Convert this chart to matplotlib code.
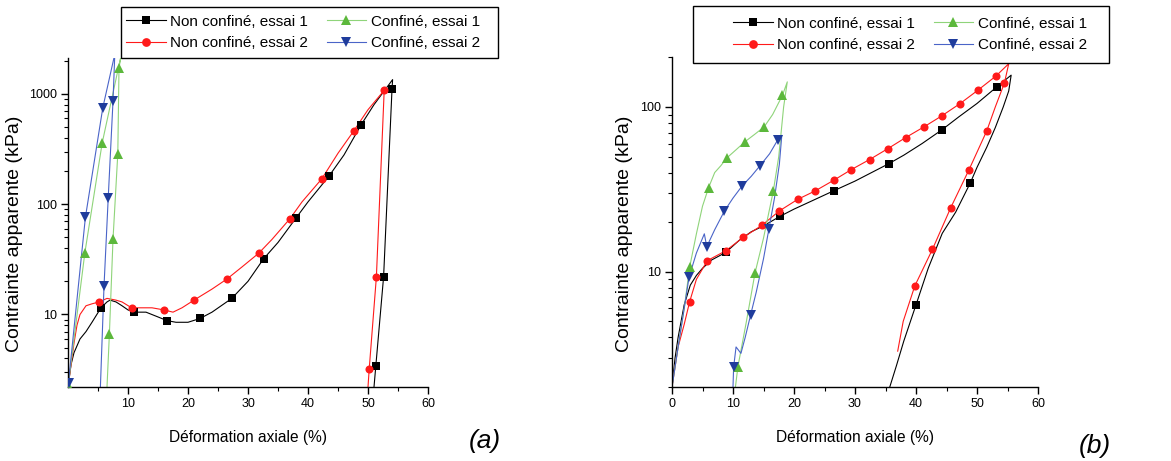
import numpy as np
import matplotlib
matplotlib.use('Agg')
import matplotlib.pyplot as plt
from matplotlib.lines import Line2D
from matplotlib.patches import Rectangle

# ---------------- Panel (a) data ----------------
a_nc1_load_x = [0, 0.5, 1, 2, 3, 4, 5.5, 6.5, 7, 8, 9, 10, 11, 13, 15, 16.5, 18, 20, 22, 24, 26,
                27.3, 30, 32.6, 35, 38, 40, 43.5, 46, 48.8, 51, 54.1]
a_nc1_load_y = [2.2, 3.5, 4.5, 6, 7, 8.5, 11.5, 13, 13.5, 13, 12, 11, 10.5, 10.5, 9.5, 8.8, 8.5, 8.5,
                9.2, 10.5, 12.5, 14, 20, 32, 45, 75, 105, 180, 280, 520, 800, 1350]
a_nc1_unload_x = [54.1, 54.0, 52.6, 51.3, 51.0]
a_nc1_unload_y = [1350, 1100, 22, 3.4, 2.2]
a_nc1_mk_x = [5.5, 11, 16.5, 22, 27.3, 32.6, 38, 43.5, 48.8, 54.0, 52.6, 51.3]
a_nc1_mk_y = [11.5, 10.5, 8.8, 9.2, 14, 32, 75, 180, 520, 1100, 22, 3.4]

a_nc2_load_x = [0, 0.5, 1, 1.5, 2, 3, 4, 5.2, 6.5, 8, 9, 10.6, 12, 14, 16, 17.5, 19, 21, 24, 26.5,
                29, 31.8, 34, 37, 39, 42.3, 45, 47.6, 50, 52.7]
a_nc2_load_y = [2.2, 3.5, 5.5, 8, 10, 12, 12.5, 13, 14, 13.5, 13, 11.5, 11.5, 11.5, 11, 10.5, 11.5,
                13.5, 17, 21, 27, 36, 48, 74, 105, 170, 290, 460, 720, 1080]
a_nc2_unload_x = [52.7, 51.4, 50.2, 50.0]
a_nc2_unload_y = [1080, 22, 3.2, 2.2]
a_nc2_mk_x = [5.2, 10.6, 16, 21, 26.5, 31.8, 37, 42.3, 47.6, 52.7, 51.4, 50.2]
a_nc2_mk_y = [13, 11.5, 11, 13.5, 21, 36, 74, 170, 460, 1080, 22, 3.2]

a_c1_x = [0, 2.8, 5.7, 8.9, 8.5, 8.3, 7.5, 6.9, 6.5]
a_c1_y = [2.2, 36, 360, 2300, 1720, 287, 48, 6.7, 2.2]
a_c1_mk_x = [0.1, 2.8, 5.7, 8.5, 8.3, 7.5, 6.9]
a_c1_mk_y = [2.2, 36, 360, 1720, 287, 48, 6.7]

a_c2_x = [0, 2.9, 5.8, 7.8, 7.5, 6.7, 6.0, 5.4]
a_c2_y = [2.2, 76, 750, 2300, 860, 113, 18, 2.2]
a_c2_mk_x = [0.1, 2.9, 5.8, 7.5, 6.7, 6.0]
a_c2_mk_y = [2.4, 76, 750, 860, 113, 18]

# ---------------- Panel (b) data ----------------
b_nc1_x = [0, 0.5, 1, 2, 3, 4, 5, 6.5, 8.8, 11, 13, 15, 17.7, 20, 23, 26.5, 30, 33, 35.5, 38, 41,
           44.3, 47, 50, 53.2, 55.6,
           55.2, 54.3, 53, 51.6, 50, 48.9, 46.5, 44.3, 42, 40, 38, 36.8, 35.7]
b_nc1_y = [2.0, 3, 4, 6.3, 8.3, 9.5, 10.5, 11.8, 13.1, 15.5, 17.5, 19, 21.7, 24, 27, 31, 35.5, 40.5,
           45.2, 51, 60, 72.9, 87, 105, 132, 156,
           125, 100, 75, 57, 43, 34.6, 23, 17.1, 10.5, 6.3, 3.8, 2.7, 2.0]
b_nc1_mk_x = [8.8, 17.7, 26.5, 35.5, 44.3, 53.2, 48.9, 40]
b_nc1_mk_y = [13.1, 21.7, 31, 45.2, 72.9, 132, 34.6, 6.3]

b_nc2_x = [0, 1, 2, 2.9, 4, 5.8, 8.8, 11.7, 14.7, 17.6, 20.6, 23.5, 26.5, 29.4, 32.4, 35.4, 38.3,
           41.3, 44.2, 47.2, 50.1, 53.1, 55.2,
           54.5, 53, 51.6, 48.7, 45.7, 42.7, 39.8, 37.9, 37.0]
b_nc2_y = [2.0, 3.5, 4.8, 6.6, 9, 11.7, 13.4, 16.2, 19.1, 23.4, 27.5, 31.0, 35.9, 41.7, 48, 55.9,
           65.2, 75.7, 88.2, 104.7, 126, 154, 183,
           140, 100, 71.6, 41.7, 24.5, 13.7, 8.2, 5.0, 3.3]
b_nc2_mk_x = [2.9, 5.8, 8.8, 11.7, 14.7, 17.6, 20.6, 23.5, 26.5, 29.4, 32.4, 35.4, 38.3, 41.3,
              44.2, 47.2, 50.1, 53.1, 54.5, 51.6, 48.7, 45.7, 42.7, 39.8]
b_nc2_mk_y = [6.6, 11.7, 13.4, 16.2, 19.1, 23.4, 27.5, 31.0, 35.9, 41.7, 48, 55.9, 65.2, 75.7,
              88.2, 104.7, 126, 154, 140, 71.6, 41.7, 24.5, 13.7, 8.2]

b_c1_x = [0, 1, 2, 2.9, 4, 5, 6.0, 7, 8, 9.0, 10.5, 12.0, 13.5, 15.1, 16.5, 18.1, 18.9,
          18.3, 17.5, 16.6, 15, 13.6, 12.2, 10.8, 10.4]
b_c1_y = [2.0, 3.5, 6, 10.7, 17, 25, 32.4, 40, 44, 49.1, 55, 61.7, 68, 75.7, 90, 117.6, 142,
          100, 50, 30.8, 16, 9.8, 5, 2.65, 2.0]
b_c1_mk_x = [2.9, 6.0, 9.0, 12.0, 15.1, 18.1, 16.6, 13.6, 10.8]
b_c1_mk_y = [10.7, 32.4, 49.1, 61.7, 75.7, 117.6, 30.8, 9.8, 2.65]

b_c2_x = [0, 1, 2, 2.8, 4, 5.3, 5.7, 7, 8.6, 10, 11.5, 13, 14.4, 16, 17.3, 18.0,
          17.6, 16.8, 15.9, 15, 13.8, 12.9, 12, 11.3, 10.5, 10.1, 10.0]
b_c2_y = [2.0, 3.5, 6, 9.3, 13, 17, 14.2, 18, 23.4, 28, 33.2, 38, 43.9, 52, 62.8, 67.3,
          45, 28, 18.3, 12, 7.5, 5.5, 4, 3.2, 3.5, 2.63, 2.0]
b_c2_mk_x = [2.8, 5.7, 8.6, 11.5, 14.4, 17.3, 15.9, 12.9, 10.1]
b_c2_mk_y = [9.3, 14.2, 23.4, 33.2, 43.9, 62.8, 18.3, 5.5, 2.63]

labels = ['Non confiné, essai 1', 'Non confiné, essai 2', 'Confiné, essai 1', 'Confiné, essai 2']

# colours / styles
STY = {
    'nc1': dict(color='#000000', mc='#000000', marker='s', ms=5.5),
    'nc2': dict(color='#ff1a1a', mc='#ff1a1a', marker='o', ms=5.8),
    'c1': dict(color='#8fd47a', mc='#5cb83c', marker='^', ms=6.8),
    'c2': dict(color='#4a64c8', mc='#1f3c9c', marker='v', ms=6.8),
}

plt.rcParams['font.family'] = ['Liberation Sans', 'DejaVu Sans']


def draw_curve(ax, xs, ys, mx, my, key):
    s = STY[key]
    ax.plot(xs, ys, '-', color=s['color'], lw=0.8, zorder=2)
    ax.plot(mx, my, linestyle='none', marker=s['marker'], ms=s['ms'],
            color=s['mc'], markeredgewidth=0, zorder=3)


def style_axes(ax, ylim, yticks, xticks):
    ax.set_yscale('log')
    ax.set_xlim(0, 60)
    ax.set_ylim(*ylim)
    for side in ('top', 'right'):
        ax.spines[side].set_visible(False)
    for side in ('left', 'bottom'):
        ax.spines[side].set_linewidth(1.0)
    ax.set_xticks(xticks)
    ax.set_xticklabels([str(t) for t in xticks])
    ax.set_xticks(np.arange(5, 60, 10), minor=True)
    ax.set_yticks(yticks)
    ax.set_yticklabels([str(t) for t in yticks])
    ax.yaxis.set_minor_locator(matplotlib.ticker.LogLocator(base=10, subs=np.arange(2, 10)))
    ax.yaxis.set_minor_formatter(matplotlib.ticker.NullFormatter())
    ax.tick_params(which='major', direction='out', length=5, width=1, labelsize=9, pad=3)
    ax.tick_params(which='minor', direction='out', length=3, width=0.8)
    ax.set_xlabel('Déformation axiale (%)', fontsize=11.2)
    ax.set_ylabel('Contrainte apparente (kPa)', fontsize=14)


def legend_handles():
    hs = []
    for key in ('nc1', 'nc2', 'c1', 'c2'):
        s = STY[key]
        hs.append(Line2D([], [], color=s['color'], lw=0.8, marker=s['marker'], ms=s['ms'] + 0.5,
                         markerfacecolor=s['mc'], markeredgewidth=0))
    return hs


fig = plt.figure(figsize=(11.71, 4.61), dpi=100)
W, H = 1171, 461

ax_a = fig.add_axes([68 / W, 1 - 387 / H, 360 / W, 329 / H])
draw_curve(ax_a, a_nc1_load_x + a_nc1_unload_x, a_nc1_load_y + a_nc1_unload_y,
           a_nc1_mk_x, a_nc1_mk_y, 'nc1')
draw_curve(ax_a, a_nc2_load_x + a_nc2_unload_x, a_nc2_load_y + a_nc2_unload_y,
           a_nc2_mk_x, a_nc2_mk_y, 'nc2')
draw_curve(ax_a, a_c1_x, a_c1_y, a_c1_mk_x, a_c1_mk_y, 'c1')
draw_curve(ax_a, a_c2_x, a_c2_y, a_c2_mk_x, a_c2_mk_y, 'c2')
style_axes(ax_a, (2.2, 2120), [10, 100, 1000], [10, 20, 30, 40, 50, 60])
ax_a.yaxis.set_label_coords(-0.125, 0.465)
ax_a.xaxis.set_label_coords(0.5, -0.13)

ax_b = fig.add_axes([672 / W, 1 - 387 / H, 366 / W, 330 / H])
draw_curve(ax_b, b_nc1_x, b_nc1_y, b_nc1_mk_x, b_nc1_mk_y, 'nc1')
draw_curve(ax_b, b_nc2_x, b_nc2_y, b_nc2_mk_x, b_nc2_mk_y, 'nc2')
draw_curve(ax_b, b_c1_x, b_c1_y, b_c1_mk_x, b_c1_mk_y, 'c1')
draw_curve(ax_b, b_c2_x, b_c2_y, b_c2_mk_x, b_c2_mk_y, 'c2')
style_axes(ax_b, (2.0, 201), [10, 100], [0, 10, 20, 30, 40, 50, 60])
ax_b.yaxis.set_label_coords(-0.107, 0.465)
ax_b.xaxis.set_label_coords(0.5, -0.13)

# legends: frame drawn as a rectangle, entries placed inside it
for (x0, y0, x1, y1, cx) in [(121, 7, 498, 58, 126), (693, 6, 1109, 63, 733)]:
    fig.patches.append(Rectangle((x0 / W, 1 - y1 / H), (x1 - x0) / W, (y1 - y0) / H,
                                 transform=fig.transFigure, fill=False,
                                 edgecolor='black', linewidth=1.0))
    fig.legend(legend_handles(), labels, ncol=2, loc='center left',
               bbox_to_anchor=(cx / W, 1 - (y0 + y1) / 2 / H),
               fontsize=11, frameon=False, handlelength=2.6, handletextpad=0.3,
               columnspacing=1.2, borderaxespad=0, borderpad=0, labelspacing=0.5)

fig.text(485 / W, 1 - 441 / H, '(a)', fontsize=19, style='italic', ha='center', va='center')
fig.text(1095 / W, 1 - 446 / H, '(b)', fontsize=19, style='italic', ha='center', va='center')

fig.savefig('out.png', dpi=100)
